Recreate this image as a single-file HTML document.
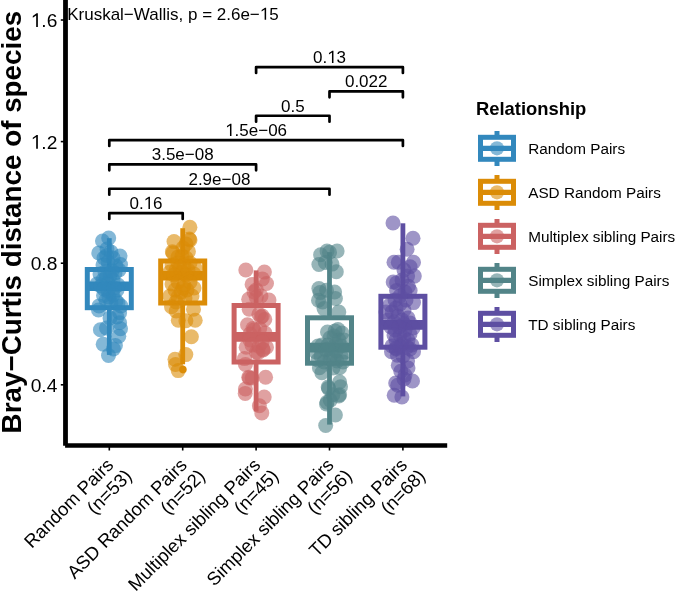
<!DOCTYPE html>
<html><head><meta charset="utf-8"><style>
html,body{margin:0;padding:0;background:#fff;}
body{width:685px;height:592px;overflow:hidden;font-family:"Liberation Sans",sans-serif;}
svg{display:block;}
</style></head><body>
<svg style="will-change:transform" width="685" height="592" viewBox="0 0 685 592">
<g stroke="#3288BD" fill="none">
<line x1="109.3" y1="238.2" x2="109.3" y2="269.5" stroke-width="4.8"/>
<line x1="109.3" y1="307.7" x2="109.3" y2="354.9" stroke-width="4.8"/>
<rect x="87.3" y="269.5" width="44" height="38.19999999999999" stroke-width="5" fill="#fff"/>
<line x1="87.3" y1="286.2" x2="131.3" y2="286.2" stroke-width="9.6"/>
</g>
<g fill="#3288BD" fill-opacity="0.6">
<circle cx="108.7" cy="238.0" r="7.5"/>
<circle cx="102.5" cy="241.0" r="7.5"/>
<circle cx="98.8" cy="253.0" r="7.5"/>
<circle cx="120.0" cy="256.0" r="7.5"/>
<circle cx="106.6" cy="255.5" r="7.5"/>
<circle cx="103.0" cy="265.0" r="7.5"/>
<circle cx="120.5" cy="264.5" r="7.5"/>
<circle cx="107.0" cy="249.0" r="7.5"/>
<circle cx="113.0" cy="258.0" r="7.5"/>
<circle cx="108.0" cy="262.0" r="7.5"/>
<circle cx="116.0" cy="266.0" r="7.5"/>
<circle cx="104.0" cy="258.0" r="7.5"/>
<circle cx="111.0" cy="252.0" r="7.5"/>
<circle cx="100.0" cy="274.0" r="7.5"/>
<circle cx="105.0" cy="272.0" r="7.5"/>
<circle cx="110.0" cy="276.0" r="7.5"/>
<circle cx="115.0" cy="273.0" r="7.5"/>
<circle cx="119.0" cy="270.0" r="7.5"/>
<circle cx="103.0" cy="280.0" r="7.5"/>
<circle cx="108.0" cy="283.0" r="7.5"/>
<circle cx="113.0" cy="280.0" r="7.5"/>
<circle cx="118.0" cy="285.0" r="7.5"/>
<circle cx="97.0" cy="284.0" r="7.5"/>
<circle cx="112.0" cy="271.0" r="7.5"/>
<circle cx="106.0" cy="278.0" r="7.5"/>
<circle cx="101.0" cy="286.0" r="7.5"/>
<circle cx="103.5" cy="295.4" r="7.5"/>
<circle cx="108.0" cy="291.0" r="7.5"/>
<circle cx="113.0" cy="295.0" r="7.5"/>
<circle cx="117.0" cy="290.0" r="7.5"/>
<circle cx="106.0" cy="300.0" r="7.5"/>
<circle cx="111.0" cy="303.0" r="7.5"/>
<circle cx="116.0" cy="301.0" r="7.5"/>
<circle cx="99.0" cy="306.0" r="7.5"/>
<circle cx="121.0" cy="306.0" r="7.5"/>
<circle cx="109.0" cy="297.0" r="7.5"/>
<circle cx="104.0" cy="289.0" r="7.5"/>
<circle cx="114.0" cy="288.0" r="7.5"/>
<circle cx="118.0" cy="303.0" r="7.5"/>
<circle cx="98.5" cy="310.0" r="7.5"/>
<circle cx="119.6" cy="312.7" r="7.5"/>
<circle cx="117.0" cy="317.0" r="7.5"/>
<circle cx="100.4" cy="329.7" r="7.5"/>
<circle cx="106.5" cy="328.0" r="7.5"/>
<circle cx="119.6" cy="322.8" r="7.5"/>
<circle cx="120.5" cy="328.7" r="7.5"/>
<circle cx="118.8" cy="336.3" r="7.5"/>
<circle cx="103.2" cy="344.3" r="7.5"/>
<circle cx="115.4" cy="345.6" r="7.5"/>
<circle cx="108.5" cy="355.5" r="7.5"/>
<circle cx="113.4" cy="349.0" r="7.5"/>
<circle cx="110.0" cy="318.0" r="7.5"/>
</g>
<g stroke="#DB8C07" fill="none">
<line x1="182.7" y1="228.2" x2="182.7" y2="261.0" stroke-width="4.8"/>
<line x1="182.7" y1="303.0" x2="182.7" y2="364.3" stroke-width="4.8"/>
<rect x="160.7" y="261.0" width="44" height="42.0" stroke-width="5" fill="#fff"/>
<line x1="160.7" y1="275.8" x2="204.7" y2="275.8" stroke-width="9.6"/>
</g>
<circle cx="182.9" cy="369.6" r="3.8" fill="#DB8C07"/>
<g fill="#DB8C07" fill-opacity="0.6">
<circle cx="189.9" cy="227.3" r="7.5"/>
<circle cx="189.3" cy="239.1" r="7.5"/>
<circle cx="190.0" cy="240.0" r="7.5"/>
<circle cx="174.0" cy="241.6" r="7.5"/>
<circle cx="172.4" cy="251.8" r="7.5"/>
<circle cx="173.0" cy="253.0" r="7.5"/>
<circle cx="188.4" cy="251.4" r="7.5"/>
<circle cx="183.0" cy="248.0" r="7.5"/>
<circle cx="178.0" cy="257.0" r="7.5"/>
<circle cx="186.0" cy="258.0" r="7.5"/>
<circle cx="182.0" cy="256.0" r="7.5"/>
<circle cx="186.0" cy="244.0" r="7.5"/>
<circle cx="172.0" cy="265.0" r="7.5"/>
<circle cx="178.0" cy="263.0" r="7.5"/>
<circle cx="184.0" cy="266.0" r="7.5"/>
<circle cx="190.0" cy="263.0" r="7.5"/>
<circle cx="195.0" cy="268.0" r="7.5"/>
<circle cx="176.0" cy="270.0" r="7.5"/>
<circle cx="182.0" cy="272.0" r="7.5"/>
<circle cx="188.0" cy="270.0" r="7.5"/>
<circle cx="170.0" cy="272.0" r="7.5"/>
<circle cx="194.0" cy="274.0" r="7.5"/>
<circle cx="180.0" cy="268.0" r="7.5"/>
<circle cx="186.0" cy="275.0" r="7.5"/>
<circle cx="174.0" cy="275.0" r="7.5"/>
<circle cx="172.0" cy="284.0" r="7.5"/>
<circle cx="178.0" cy="282.0" r="7.5"/>
<circle cx="184.0" cy="285.0" r="7.5"/>
<circle cx="190.0" cy="282.0" r="7.5"/>
<circle cx="194.0" cy="288.0" r="7.5"/>
<circle cx="175.0" cy="290.0" r="7.5"/>
<circle cx="181.0" cy="292.0" r="7.5"/>
<circle cx="187.0" cy="290.0" r="7.5"/>
<circle cx="170.0" cy="296.0" r="7.5"/>
<circle cx="178.0" cy="297.0" r="7.5"/>
<circle cx="185.0" cy="298.0" r="7.5"/>
<circle cx="192.0" cy="296.0" r="7.5"/>
<circle cx="183.0" cy="288.0" r="7.5"/>
<circle cx="176.0" cy="302.0" r="7.5"/>
<circle cx="171.5" cy="306.8" r="7.5"/>
<circle cx="176.2" cy="311.0" r="7.5"/>
<circle cx="193.5" cy="309.3" r="7.5"/>
<circle cx="178.3" cy="320.3" r="7.5"/>
<circle cx="185.9" cy="320.7" r="7.5"/>
<circle cx="195.2" cy="320.3" r="7.5"/>
<circle cx="191.4" cy="336.7" r="7.5"/>
<circle cx="185.8" cy="354.6" r="7.5"/>
<circle cx="175.0" cy="359.3" r="7.5"/>
<circle cx="178.2" cy="370.6" r="7.5"/>
<circle cx="175.5" cy="364.5" r="7.5"/>
</g>
<g stroke="#CB6262" fill="none">
<line x1="256.1" y1="270.4" x2="256.1" y2="305.5" stroke-width="4.8"/>
<line x1="256.1" y1="362.0" x2="256.1" y2="411.5" stroke-width="4.8"/>
<rect x="234.10000000000002" y="305.5" width="44" height="56.5" stroke-width="5" fill="#fff"/>
<line x1="234.10000000000002" y1="336.9" x2="278.1" y2="336.9" stroke-width="9.6"/>
</g>
<g fill="#CB6262" fill-opacity="0.6">
<circle cx="245.8" cy="270.0" r="7.5"/>
<circle cx="264.4" cy="272.1" r="7.5"/>
<circle cx="252.1" cy="284.4" r="7.5"/>
<circle cx="266.5" cy="283.5" r="7.5"/>
<circle cx="256.3" cy="289.9" r="7.5"/>
<circle cx="262.3" cy="278.9" r="7.5"/>
<circle cx="248.7" cy="299.2" r="7.5"/>
<circle cx="269.0" cy="300.0" r="7.5"/>
<circle cx="256.3" cy="297.5" r="7.5"/>
<circle cx="261.0" cy="296.0" r="7.5"/>
<circle cx="254.0" cy="292.0" r="7.5"/>
<circle cx="249.2" cy="309.2" r="7.5"/>
<circle cx="262.3" cy="316.0" r="7.5"/>
<circle cx="258.9" cy="314.3" r="7.5"/>
<circle cx="264.8" cy="319.4" r="7.5"/>
<circle cx="247.5" cy="324.8" r="7.5"/>
<circle cx="253.0" cy="328.6" r="7.5"/>
<circle cx="259.7" cy="328.6" r="7.5"/>
<circle cx="261.0" cy="317.0" r="7.5"/>
<circle cx="254.0" cy="330.0" r="7.5"/>
<circle cx="250.0" cy="334.0" r="7.5"/>
<circle cx="265.0" cy="333.0" r="7.5"/>
<circle cx="246.2" cy="347.2" r="7.5"/>
<circle cx="258.9" cy="346.4" r="7.5"/>
<circle cx="266.5" cy="347.2" r="7.5"/>
<circle cx="256.3" cy="352.3" r="7.5"/>
<circle cx="263.1" cy="349.3" r="7.5"/>
<circle cx="258.0" cy="352.7" r="7.5"/>
<circle cx="244.5" cy="358.6" r="7.5"/>
<circle cx="250.0" cy="340.0" r="7.5"/>
<circle cx="262.0" cy="342.0" r="7.5"/>
<circle cx="263.0" cy="350.0" r="7.5"/>
<circle cx="252.0" cy="345.0" r="7.5"/>
<circle cx="245.4" cy="364.5" r="7.5"/>
<circle cx="248.7" cy="377.2" r="7.5"/>
<circle cx="252.1" cy="378.0" r="7.5"/>
<circle cx="265.6" cy="377.2" r="7.5"/>
<circle cx="245.2" cy="393.4" r="7.5"/>
<circle cx="264.2" cy="397.0" r="7.5"/>
<circle cx="259.4" cy="405.8" r="7.5"/>
<circle cx="261.8" cy="412.9" r="7.5"/>
<circle cx="245.4" cy="389.0" r="7.5"/>
<circle cx="249.4" cy="378.0" r="7.5"/>
</g>
<g stroke="#528488" fill="none">
<line x1="329.5" y1="252.1" x2="329.5" y2="317.8" stroke-width="4.8"/>
<line x1="329.5" y1="363.2" x2="329.5" y2="424.6" stroke-width="4.8"/>
<rect x="307.5" y="317.8" width="44" height="45.39999999999998" stroke-width="5" fill="#fff"/>
<line x1="307.5" y1="347.6" x2="351.5" y2="347.6" stroke-width="9.6"/>
</g>
<g fill="#528488" fill-opacity="0.6">
<circle cx="337.1" cy="251.0" r="7.5"/>
<circle cx="329.5" cy="252.3" r="7.5"/>
<circle cx="327.0" cy="251.0" r="7.5"/>
<circle cx="320.6" cy="254.8" r="7.5"/>
<circle cx="318.9" cy="264.5" r="7.5"/>
<circle cx="325.3" cy="262.4" r="7.5"/>
<circle cx="332.0" cy="264.1" r="7.5"/>
<circle cx="336.3" cy="271.7" r="7.5"/>
<circle cx="318.9" cy="288.6" r="7.5"/>
<circle cx="326.5" cy="290.3" r="7.5"/>
<circle cx="334.6" cy="292.0" r="7.5"/>
<circle cx="320.0" cy="292.6" r="7.5"/>
<circle cx="318.5" cy="300.2" r="7.5"/>
<circle cx="322.7" cy="301.9" r="7.5"/>
<circle cx="335.4" cy="298.5" r="7.5"/>
<circle cx="324.0" cy="308.6" r="7.5"/>
<circle cx="338.8" cy="312.0" r="7.5"/>
<circle cx="327.5" cy="332.0" r="7.5"/>
<circle cx="338.0" cy="329.5" r="7.5"/>
<circle cx="342.0" cy="333.0" r="7.5"/>
<circle cx="335.0" cy="331.0" r="7.5"/>
<circle cx="334.0" cy="336.0" r="7.5"/>
<circle cx="339.0" cy="340.0" r="7.5"/>
<circle cx="330.0" cy="338.0" r="7.5"/>
<circle cx="344.0" cy="340.0" r="7.5"/>
<circle cx="322.0" cy="345.0" r="7.5"/>
<circle cx="318.0" cy="346.0" r="7.5"/>
<circle cx="336.0" cy="344.0" r="7.5"/>
<circle cx="341.0" cy="346.0" r="7.5"/>
<circle cx="328.0" cy="345.0" r="7.5"/>
<circle cx="316.0" cy="352.0" r="7.5"/>
<circle cx="321.0" cy="356.0" r="7.5"/>
<circle cx="326.0" cy="350.0" r="7.5"/>
<circle cx="331.0" cy="355.0" r="7.5"/>
<circle cx="336.0" cy="351.0" r="7.5"/>
<circle cx="341.0" cy="356.0" r="7.5"/>
<circle cx="345.0" cy="352.0" r="7.5"/>
<circle cx="318.0" cy="360.0" r="7.5"/>
<circle cx="324.0" cy="362.0" r="7.5"/>
<circle cx="330.0" cy="359.0" r="7.5"/>
<circle cx="337.0" cy="361.0" r="7.5"/>
<circle cx="343.0" cy="362.0" r="7.5"/>
<circle cx="328.0" cy="349.0" r="7.5"/>
<circle cx="334.0" cy="358.0" r="7.5"/>
<circle cx="319.4" cy="367.7" r="7.5"/>
<circle cx="321.9" cy="372.7" r="7.5"/>
<circle cx="339.6" cy="367.7" r="7.5"/>
<circle cx="333.0" cy="368.0" r="7.5"/>
<circle cx="339.6" cy="382.0" r="7.5"/>
<circle cx="328.2" cy="387.1" r="7.5"/>
<circle cx="339.6" cy="394.7" r="7.5"/>
<circle cx="332.9" cy="394.7" r="7.5"/>
<circle cx="327.0" cy="402.3" r="7.5"/>
<circle cx="325.7" cy="425.5" r="7.5"/>
<circle cx="335.4" cy="415.0" r="7.5"/>
<circle cx="326.5" cy="404.0" r="7.5"/>
<circle cx="330.3" cy="400.2" r="7.5"/>
<circle cx="338.8" cy="396.0" r="7.5"/>
<circle cx="328.6" cy="388.4" r="7.5"/>
<circle cx="340.5" cy="386.7" r="7.5"/>
</g>
<g stroke="#5E4FA2" fill="none">
<line x1="402.9" y1="223.3" x2="402.9" y2="296.3" stroke-width="4.8"/>
<line x1="402.9" y1="347.2" x2="402.9" y2="396.4" stroke-width="4.8"/>
<rect x="380.9" y="296.3" width="44" height="50.89999999999998" stroke-width="5" fill="#fff"/>
<line x1="380.9" y1="324.9" x2="424.9" y2="324.9" stroke-width="9.6"/>
</g>
<g fill="#5E4FA2" fill-opacity="0.6">
<circle cx="393.0" cy="223.0" r="7.5"/>
<circle cx="413.0" cy="238.2" r="7.5"/>
<circle cx="407.1" cy="249.2" r="7.5"/>
<circle cx="394.0" cy="262.3" r="7.5"/>
<circle cx="398.3" cy="262.3" r="7.5"/>
<circle cx="413.5" cy="262.3" r="7.5"/>
<circle cx="410.1" cy="266.8" r="7.5"/>
<circle cx="414.3" cy="276.1" r="7.5"/>
<circle cx="393.2" cy="282.0" r="7.5"/>
<circle cx="396.6" cy="282.9" r="7.5"/>
<circle cx="407.6" cy="276.1" r="7.5"/>
<circle cx="408.4" cy="286.3" r="7.5"/>
<circle cx="396.6" cy="290.5" r="7.5"/>
<circle cx="410.1" cy="290.5" r="7.5"/>
<circle cx="404.0" cy="270.0" r="7.5"/>
<circle cx="402.0" cy="280.0" r="7.5"/>
<circle cx="405.0" cy="292.0" r="7.5"/>
<circle cx="390.0" cy="305.0" r="7.5"/>
<circle cx="395.0" cy="300.0" r="7.5"/>
<circle cx="400.0" cy="304.0" r="7.5"/>
<circle cx="392.0" cy="312.0" r="7.5"/>
<circle cx="398.0" cy="316.0" r="7.5"/>
<circle cx="404.0" cy="310.0" r="7.5"/>
<circle cx="388.0" cy="320.0" r="7.5"/>
<circle cx="394.0" cy="322.0" r="7.5"/>
<circle cx="402.0" cy="320.0" r="7.5"/>
<circle cx="408.0" cy="318.0" r="7.5"/>
<circle cx="406.0" cy="300.0" r="7.5"/>
<circle cx="396.0" cy="308.0" r="7.5"/>
<circle cx="410.0" cy="323.0" r="7.5"/>
<circle cx="386.0" cy="312.0" r="7.5"/>
<circle cx="413.5" cy="302.6" r="7.5"/>
<circle cx="400.0" cy="296.0" r="7.5"/>
<circle cx="404.0" cy="324.0" r="7.5"/>
<circle cx="395.0" cy="330.0" r="7.5"/>
<circle cx="400.0" cy="335.0" r="7.5"/>
<circle cx="405.0" cy="330.0" r="7.5"/>
<circle cx="410.0" cy="334.0" r="7.5"/>
<circle cx="396.0" cy="340.0" r="7.5"/>
<circle cx="402.0" cy="344.0" r="7.5"/>
<circle cx="408.0" cy="340.0" r="7.5"/>
<circle cx="392.0" cy="346.0" r="7.5"/>
<circle cx="412.0" cy="345.0" r="7.5"/>
<circle cx="399.0" cy="327.0" r="7.5"/>
<circle cx="404.0" cy="338.0" r="7.5"/>
<circle cx="394.0" cy="335.0" r="7.5"/>
<circle cx="407.0" cy="347.0" r="7.5"/>
<circle cx="391.0" cy="327.0" r="7.5"/>
<circle cx="413.0" cy="328.0" r="7.5"/>
<circle cx="400.0" cy="347.0" r="7.5"/>
<circle cx="396.0" cy="349.0" r="7.5"/>
<circle cx="391.5" cy="351.8" r="7.5"/>
<circle cx="413.5" cy="351.8" r="7.5"/>
<circle cx="397.4" cy="355.2" r="7.5"/>
<circle cx="407.6" cy="361.1" r="7.5"/>
<circle cx="398.3" cy="365.3" r="7.5"/>
<circle cx="400.8" cy="371.3" r="7.5"/>
<circle cx="404.0" cy="379.0" r="7.5"/>
<circle cx="412.5" cy="381.0" r="7.5"/>
<circle cx="395.7" cy="383.1" r="7.5"/>
<circle cx="397.7" cy="385.2" r="7.5"/>
<circle cx="394.2" cy="395.2" r="7.5"/>
<circle cx="401.9" cy="397.0" r="7.5"/>
<circle cx="405.0" cy="375.0" r="7.5"/>
<circle cx="403.0" cy="356.0" r="7.5"/>
<circle cx="408.0" cy="368.0" r="7.5"/>
<circle cx="396.0" cy="348.0" r="7.5"/>
<circle cx="410.0" cy="349.0" r="7.5"/>
</g>
<g stroke="#000" fill="none">
<line x1="65.5" y1="0" x2="65.5" y2="445.8" stroke-width="4.8"/>
<line x1="65.1" y1="445.55" x2="447.2" y2="445.55" stroke-width="4.5"/>
<line x1="60.8" y1="20.0" x2="64" y2="20.0" stroke-width="1.6"/>
<line x1="60.8" y1="141.6" x2="64" y2="141.6" stroke-width="1.6"/>
<line x1="60.8" y1="263.2" x2="64" y2="263.2" stroke-width="1.6"/>
<line x1="60.8" y1="384.8" x2="64" y2="384.8" stroke-width="1.6"/>
<line x1="109.3" y1="447" x2="109.3" y2="450.5" stroke-width="1.6"/>
<line x1="182.7" y1="447" x2="182.7" y2="450.5" stroke-width="1.6"/>
<line x1="256.1" y1="447" x2="256.1" y2="450.5" stroke-width="1.6"/>
<line x1="329.5" y1="447" x2="329.5" y2="450.5" stroke-width="1.6"/>
<line x1="402.9" y1="447" x2="402.9" y2="450.5" stroke-width="1.6"/>
</g>
<g font-family="Liberation Sans" font-size="19.2" fill="#000" text-anchor="end">
<text x="57.4" y="27.1"> .6</text>
<text x="57.4" y="148.7"> .2</text>
<text x="57.4" y="270.3">0.8</text>
<text x="57.4" y="391.90000000000003">0.4</text>
</g>
<text transform="translate(21.3,433.4) rotate(-90)" font-family="Liberation Sans" font-weight="bold" font-size="27.8" fill="#000">Bray−Curtis distance of species</text>
<text x="67.2" y="19.8" font-family="Liberation Sans" font-size="17" fill="#000">Kruskal−Wallis, p = 2.6e− 5</text>
<g stroke="#000" stroke-width="2.7" fill="none" stroke-linecap="round" stroke-linejoin="round">
<path d="M256.1 73.0V67.1H402.9V73.0"/>
<path d="M329.5 97.33V91.42999999999999H402.9V97.33"/>
<path d="M256.1 121.66V115.75999999999999H329.5V121.66"/>
<path d="M109.3 145.98999999999998V140.08999999999997H402.9V145.98999999999998"/>
<path d="M109.3 170.32V164.42H256.1V170.32"/>
<path d="M109.3 194.65V188.75H329.5V194.65"/>
<path d="M109.3 218.98V213.07999999999998H182.7V218.98"/>
</g>
<g font-family="Liberation Sans" font-size="17" fill="#000" text-anchor="middle">
<text x="329.5" y="62.89999999999999">0. 3</text>
<text x="366.2" y="87.22999999999999">0.022</text>
<text x="292.8" y="111.55999999999999">0.5</text>
<text x="256.09999999999997" y="135.89"> .5e−06</text>
<text x="182.70000000000002" y="160.22">3.5e−08</text>
<text x="219.4" y="184.55">2.9e−08</text>
<text x="146.0" y="208.88">0. 6</text>
</g>
<g font-family="Liberation Sans" font-size="18.5" fill="#000" text-anchor="end">
<g transform="translate(109.1,453.4) rotate(-45)"><text x="-5.14" y="13">Random Pairs</text><text x="0" y="33.5">(n=53)</text></g>
<g transform="translate(182.5,453.4) rotate(-45)"><text x="-5.14" y="13">ASD Random Pairs</text><text x="0" y="33.5">(n=52)</text></g>
<g transform="translate(255.90000000000003,453.4) rotate(-45)"><text x="-5.14" y="13">Multiplex sibling Pairs</text><text x="0" y="33.5">(n=45)</text></g>
<g transform="translate(329.3,453.4) rotate(-45)"><text x="-5.14" y="13">Simplex sibling Pairs</text><text x="0" y="33.5">(n=56)</text></g>
<g transform="translate(402.7,453.4) rotate(-45)"><text x="-5.14" y="13">TD sibling Pairs</text><text x="0" y="33.5">(n=68)</text></g>
</g>
<text x="476" y="114.9" font-family="Liberation Sans" font-weight="bold" font-size="18.4" fill="#000">Relationship</text>
<g stroke="#3288BD" fill="none">
<line x1="497" y1="131.0" x2="497" y2="166.0" stroke-width="5"/>
<rect x="480.5" y="137.3" width="33" height="22" stroke-width="5" fill="#fff"/>
<circle cx="497" cy="148.3" r="7.1" fill="#3288BD" fill-opacity="0.6" stroke="none"/>
<line x1="480.5" y1="148.3" x2="513.5" y2="148.3" stroke-width="5.3"/>
</g>
<text x="528.2" y="154.3" font-family="Liberation Sans" font-size="15.3" fill="#000">Random Pairs</text>
<g stroke="#DB8C07" fill="none">
<line x1="497" y1="175.0" x2="497" y2="210.0" stroke-width="5"/>
<rect x="480.5" y="181.3" width="33" height="22" stroke-width="5" fill="#fff"/>
<circle cx="497" cy="192.3" r="7.1" fill="#DB8C07" fill-opacity="0.6" stroke="none"/>
<line x1="480.5" y1="192.3" x2="513.5" y2="192.3" stroke-width="5.3"/>
</g>
<text x="528.2" y="198.3" font-family="Liberation Sans" font-size="15.3" fill="#000">ASD Random Pairs</text>
<g stroke="#CB6262" fill="none">
<line x1="497" y1="219.0" x2="497" y2="254.0" stroke-width="5"/>
<rect x="480.5" y="225.3" width="33" height="22" stroke-width="5" fill="#fff"/>
<circle cx="497" cy="236.3" r="7.1" fill="#CB6262" fill-opacity="0.6" stroke="none"/>
<line x1="480.5" y1="236.3" x2="513.5" y2="236.3" stroke-width="5.3"/>
</g>
<text x="528.2" y="242.3" font-family="Liberation Sans" font-size="15.3" fill="#000">Multiplex sibling Pairs</text>
<g stroke="#528488" fill="none">
<line x1="497" y1="263.0" x2="497" y2="298.0" stroke-width="5"/>
<rect x="480.5" y="269.3" width="33" height="22" stroke-width="5" fill="#fff"/>
<circle cx="497" cy="280.3" r="7.1" fill="#528488" fill-opacity="0.6" stroke="none"/>
<line x1="480.5" y1="280.3" x2="513.5" y2="280.3" stroke-width="5.3"/>
</g>
<text x="528.2" y="286.3" font-family="Liberation Sans" font-size="15.3" fill="#000">Simplex sibling Pairs</text>
<g stroke="#5E4FA2" fill="none">
<line x1="497" y1="307.0" x2="497" y2="342.0" stroke-width="5"/>
<rect x="480.5" y="313.3" width="33" height="22" stroke-width="5" fill="#fff"/>
<circle cx="497" cy="324.3" r="7.1" fill="#5E4FA2" fill-opacity="0.6" stroke="none"/>
<line x1="480.5" y1="324.3" x2="513.5" y2="324.3" stroke-width="5.3"/>
</g>
<text x="528.2" y="330.3" font-family="Liberation Sans" font-size="15.3" fill="#000">TD sibling Pairs</text>
<g fill="#000"><path transform="translate(30.71,27.10) scale(0.009375,-0.009375)" d="M583 0V1250L223 1000V1180L630 1466H763V0Z"/><path transform="translate(30.71,148.70) scale(0.009375,-0.009375)" d="M583 0V1250L223 1000V1180L630 1466H763V0Z"/><path transform="translate(259.79,19.80) scale(0.008301,-0.008301)" d="M583 0V1250L223 1000V1180L630 1466H763V0Z"/><path transform="translate(327.12,62.90) scale(0.008301,-0.008301)" d="M583 0V1250L223 1000V1180L630 1466H763V0Z"/><path transform="translate(225.13,135.89) scale(0.008301,-0.008301)" d="M583 0V1250L223 1000V1180L630 1466H763V0Z"/><path transform="translate(143.62,208.88) scale(0.008301,-0.008301)" d="M583 0V1250L223 1000V1180L630 1466H763V0Z"/></g>
</svg>
</body></html>
